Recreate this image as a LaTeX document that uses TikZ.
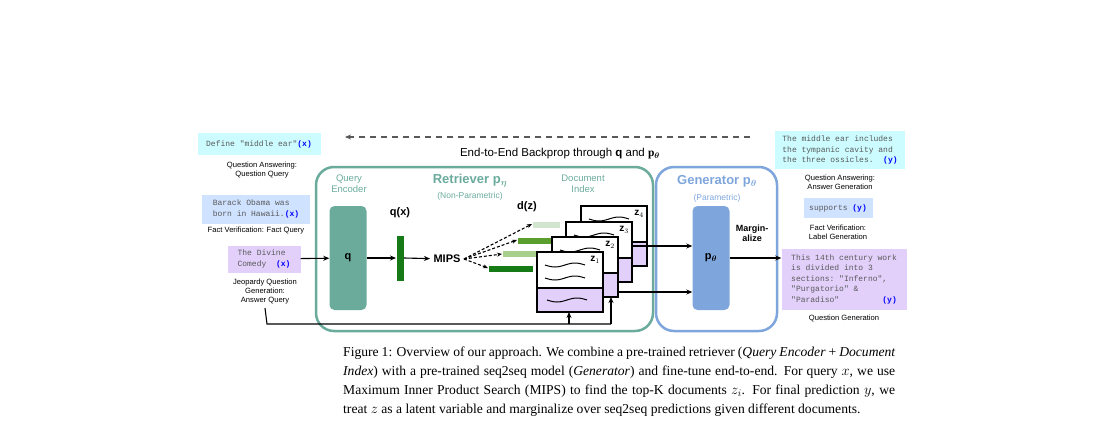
\documentclass[tikz,border=0pt]{standalone}
\usepackage{amsmath}
\usepackage{fontspec}
\setmainfont{Liberation Serif}
\setsansfont{Liberation Sans}
\setmonofont{Liberation Mono}
\usetikzlibrary{arrows.meta}
\usetikzlibrary{positioning}

\definecolor{retr}{HTML}{6AAB9C}
\definecolor{gen}{HTML}{7EA6DD}
\definecolor{qacol}{HTML}{CCFCFF}
\definecolor{fvcol}{HTML}{CFE2FF}
\definecolor{jqcol}{HTML}{E2D0FB}
\definecolor{darkbar}{HTML}{167A16}
\definecolor{midbar}{HTML}{5A9E2E}
\definecolor{lightbar}{HTML}{A8D08C}
\definecolor{palebar}{HTML}{D2E6CF}

% one document sheet of the index
\newcommand\docsheet[3]{%
  \fill[white] (#1,#2) rectangle ++(66,36);
  \fill[jqcol] (#1,#2+36) rectangle ++(66,24);
  \draw[line width=1.2] (#1,#2) rectangle ++(66,60) (#1,#2+36) -- ++(66,0);
  \draw[line width=1] plot[domain=0:1,samples=25] ({#1+8+40*\x},{#2+13+2*sin(360*\x)});
  \draw[line width=1] plot[domain=0:1,samples=25] ({#1+8+40*\x},{#2+26+2*sin(360*\x)});
  \draw[line width=1] plot[domain=0:1,samples=25] ({#1+10+40*\x},{#2+48+2*sin(360*\x)});
  \node[font=\sffamily\bfseries\fontsize{10}{10}\selectfont] at (#1+58,#2+8) {z$_{#3}$};
}

\begin{document}
\begin{tikzpicture}[x=1pt,y=-1pt,>={Stealth[length=6pt,width=5pt]},
    lbl/.style={font=\sffamily\fontsize{7.6}{9}\selectfont,align=center},
    iotext/.style={font=\ttfamily\fontsize{8}{10.5}\selectfont,text=black!65,align=left,inner sep=3pt},
    head/.style={font=\sffamily\bfseries\fontsize{13}{13}\selectfont},
    sub/.style={font=\sffamily\fontsize{9.5}{11}\selectfont,align=center},
    arr/.style={->,line width=1.1},
    bar/.style={line width=6pt}]

  \useasboundingbox (0,0) rectangle (1105,444);

  % backprop
  \coordinate (bpR) at (750,137);
  \coordinate (bpL) at (345,137);
  \draw[->,dashed,line width=1.3,black!65,dash pattern=on 6pt off 5pt] (bpR) -- (bpL);
  \node[font=\sffamily\fontsize{11.5}{12}\selectfont] (bp) at (560,154) {End-to-End Backprop through \textbf{q} and $\mathbf{p}_{\boldsymbol\theta}$};

  % module frames
  \draw[retr,line width=2.5,rounded corners=18] (316,167) rectangle (653,331);
  \draw[gen,line width=2.5,rounded corners=18] (656,167) rectangle (777,331);

  \node[head,text=retr] (rt) at (470,181) {Retriever p$_{\boldsymbol\eta}$};
  \node[sub,text=retr,font=\sffamily\fontsize{8.5}{10}\selectfont] (rtsub) at (470,196) {(Non-Parametric)};
  \node[sub,text=retr] (qe) at (349,184) {Query\\Encoder};
  \node[sub,text=retr] (di) at (583,184) {Document\\Index};
  \node[head,text=gen] (gt) at (717,181) {Generator p$_{\boldsymbol\theta}$};
  \node[sub,text=gen,font=\sffamily\fontsize{8.5}{10}\selectfont] (gtsub) at (717,198) {(Parametric)};

  % inputs
  \node[iotext,fill=qacol,minimum width=123,minimum height=22] (in1) at (259,144) {Define "middle ear"\textcolor{blue}{\textbf{(x)}}};
  \node[lbl] (l1) at (262,170) {Question Answering:\\Question Query};
  \node[iotext,fill=fvcol,minimum width=108,minimum height=29] (in2) at (256,209) {Barack Obama was\\born in Hawaii.\textcolor{blue}{\textbf{(x)}}};
  \node[lbl] (l2) at (256,231) {Fact Verification: Fact Query};
  \node[iotext,fill=jqcol,minimum width=73,minimum height=27] (in3) at (264,259) {The Divine\\Comedy \ \textcolor{blue}{\textbf{(x)}}};
  \node[lbl] (l3) at (265,292) {Jeopardy Question\\Generation:\\Answer Query};

  % encoder
  \node[fill=retr,rounded corners=5,minimum width=37,minimum height=104,font=\sffamily\bfseries\fontsize{11}{11}\selectfont] (q) at (348,258) {q};
  \node[font=\sffamily\bfseries\fontsize{11}{11}\selectfont] (qx) at (400,213) {q(x)};
  \draw[darkbar,line width=7] (400,236) -- (400,281);
  \coordinate (qbar) at (396,258);
  \coordinate (qbarR) at (404,258);
  \node[font=\sffamily\bfseries\fontsize{11}{11}\selectfont] (mips) at (447,259) {MIPS};
  \node[font=\sffamily\bfseries\fontsize{11}{11}\selectfont] (dz) at (527,207) {d(z)};

  \draw[arr] (in3) -- (q);
  \draw[arr] (q) -- (qbar);
  \draw[arr] (qbarR) -- (mips);

  % retrieved vectors
  \draw[bar,palebar] (533,225) -- (560,225);
  \draw[bar,midbar] (518,241) -- (555,241);
  \draw[bar,lightbar] (503,254) -- (537,254);
  \draw[bar,darkbar] (489,269) -- (533,269);
  \coordinate (v1) at (532,224);
  \coordinate (v2) at (517,240);
  \coordinate (v3) at (502,254);
  \coordinate (v4) at (488,268);
  \foreach \v in {v1,v2,v3,v4}
    \draw[->,dashed,line width=1.1,dash pattern=on 3pt off 2pt,>={Stealth[length=5pt,width=4pt]}] (mips.east) -- (\v);

  % documents
  \docsheet{581}{206}{4}
  \docsheet{566}{222}{3}
  \docsheet{552}{237}{2}
  \docsheet{537}{252}{1}

  % generator
  \node[fill=gen,rounded corners=5,minimum width=37,minimum height=104,font=\sffamily\bfseries\fontsize{11}{11}\selectfont] (p) at (711,258) {p$_{\boldsymbol\theta}$};
  \coordinate (d1) at (633,246);
  \coordinate (d2) at (618,292);
  \draw[arr] (d1) -- (p.west |- d1);
  \draw[arr] (d2) -- (p.west |- d2);
  \node[font=\sffamily\bfseries\fontsize{9}{10}\selectfont,align=center] (marg) at (752,233) {Margin-\\alize};

  % bottom path from query
  \coordinate (b0) at (267,324);
  \coordinate (b1) at (569,324);
  \coordinate (b2) at (611,324);
  \draw[line width=1.1] (l3.south) -- (b0) -- (b2);
  \draw[arr] (b1) -- (569,312);
  \draw[arr] (b2) -- (611,297);

  % outputs
  \node[iotext,fill=qacol,minimum width=130,minimum height=38] (o1) at (840,150) {The middle ear includes\\the tympanic cavity and\\the three ossicles. \ \textcolor{blue}{\textbf{(y)}}};
  \node[lbl] (ol1) at (840,182) {Question Answering:\\Answer Generation};
  \node[iotext,fill=fvcol,minimum width=69,minimum height=20] (o2) at (838,208) {supports \textcolor{blue}{\textbf{(y)}}};
  \node[lbl] (ol2) at (838,232) {Fact Verification:\\Label Generation};
  \node[iotext,fill=jqcol,minimum width=125,minimum height=61] (o3) at (844,279) {This 14th century work\\is divided into 3\\sections: "Inferno",\\"Purgatorio" \&\\"Paradiso" \hfill\textcolor{blue}{\textbf{(y)}}};
  \node[lbl] (ol3) at (844,318) {Question Generation};
  \draw[arr] (p.east |- 0,258) -- (o3.west |- 0,258);

  % caption
  \node[anchor=north west,inner sep=0,text width=552,font=\fontsize{13.6}{19}\selectfont,align=justify] (cap) at (343,347)
  {Figure 1: Overview of our approach. We combine a pre-trained retriever (\textit{Query Encoder} + \textit{Document Index}) with a pre-trained seq2seq model (\textit{Generator}) and fine-tune end-to-end. For query $x$, we use Maximum Inner Product Search (MIPS) to find the top-K documents $z_i$. For final prediction $y$, we treat $z$ as a latent variable and marginalize over seq2seq predictions given different documents.};
\end{tikzpicture}
\end{document}
